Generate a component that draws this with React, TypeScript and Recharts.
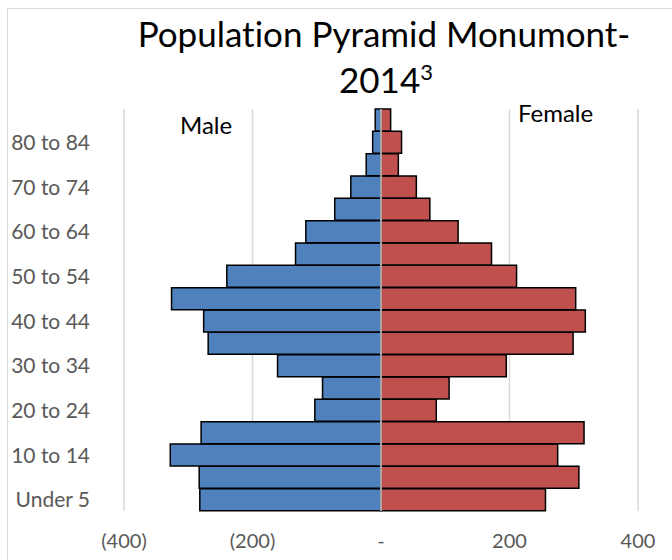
import React from 'react';
import {
    BarChart, Bar, XAxis, YAxis, CartesianGrid, ReferenceLine,
} from 'recharts';

const ageGroups = [
    'Under 5', '5 to 9', '10 to 14', '15 to 19', '20 to 24', '25 to 29',
    '30 to 34', '35 to 39', '40 to 44', '45 to 49', '50 to 54', '55 to 59',
    '60 to 64', '65 to 69', '70 to 74', '75 to 79', '80 to 84', '85+',
];
const maleCounts = [282, 283, 328, 280, 103, 91, 161, 269, 276, 326, 240, 133, 117, 72, 47, 23, 13, 9];
const femaleCounts = [256, 308, 275, 316, 86, 106, 195, 299, 318, 303, 211, 172, 120, 76, 55, 27, 32, 15];
const xTicks = [-400, -200, 0, 200, 400];

const FONT = 'Lato, "Open Sans", sans-serif';

const data = ageGroups.map((age, i) => ({
    age,
    male: -maleCounts[i],
    female: femaleCounts[i],
}));

const fmt = (v: number) => (v === 0 ? '-' : v < 0 ? `(${Math.abs(v)})` : `${v}`);

export default function App() {
    return (
        <div style={{ position: 'absolute', left: 0, top: 0, width: 672, height: 560, overflow: 'hidden', background: '#fff' }}>
            <div style={{ position: 'absolute', left: 7, top: 8, width: 700, height: 600, border: '1px solid #d9d9d9' }} />
            <div style={{ position: 'absolute', left: 0, top: 0 }}>
                <BarChart
                    width={672}
                    height={560}
                    data={data}
                    layout="vertical"
                    stackOffset="sign"
                    barCategoryGap={0}
                    margin={{ top: 109, right: 34, bottom: 0, left: 0 }}
                >
                    <CartesianGrid horizontal={false} stroke="#d9d9d9" strokeWidth={1.5} />
                    <XAxis
                        type="number"
                        domain={[-400, 400]}
                        ticks={xTicks}
                        tickFormatter={fmt}
                        axisLine={false}
                        tickLine={false}
                        tickSize={0}
                        tickMargin={23}
                        height={49}
                        tick={{ fontSize: 20, fill: '#595959', fontFamily: FONT }}
                    />
                    <YAxis
                        type="category"
                        dataKey="age"
                        reversed
                        interval={1}
                        width={124}
                        axisLine={false}
                        tickLine={false}
                        tickSize={0}
                        tickMargin={34}
                        tick={{ fontSize: 21, fill: '#595959', fontFamily: FONT }}
                    />
                    <Bar dataKey="male" stackId="p" fill="#4f81bd" stroke="#000" strokeWidth={1.5} isAnimationActive={false} />
                    <Bar dataKey="female" stackId="p" fill="#c0504d" stroke="#000" strokeWidth={1.5} isAnimationActive={false} />
                    <ReferenceLine x={0} stroke="#d9d9d9" strokeWidth={1.5} />
                </BarChart>
            </div>
            <svg width={672} height={560} style={{ position: 'absolute', left: 0, top: 0, pointerEvents: 'none' }}>
                <g fontFamily={FONT} fill="#000" style={{ fontVariantLigatures: 'none' }}>
                    <text x={384} y={47} fontSize={35} textAnchor="middle">Population Pyramid Monumont-</text>
                    <text x={386} y={93} fontSize={35} textAnchor="middle">
                        2014<tspan fontSize={22} dy={-13}>3</tspan>
                    </text>
                    <text x={180} y={134} fontSize={24}>Male</text>
                    <text x={518} y={122} fontSize={24}>Female</text>
                </g>
            </svg>
        </div>
    );
}
